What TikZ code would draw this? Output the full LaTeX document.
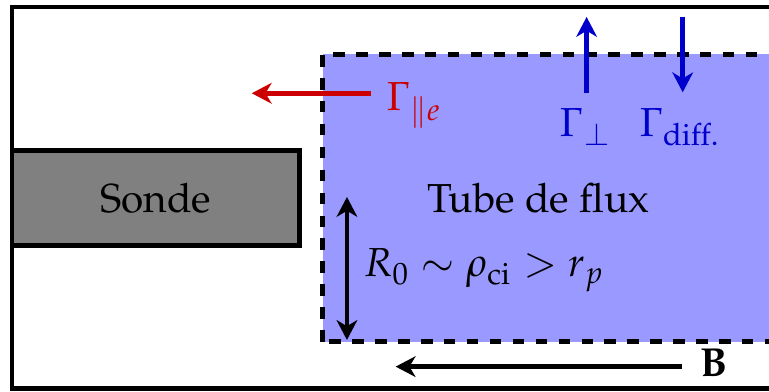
\documentclass[tikz,border=0pt]{standalone}
\usepackage[T1]{fontenc}
\usepackage{amsmath,amssymb}
\usepackage{mathpazo}
\usepackage{tikz}
\usetikzlibrary{arrows.meta,positioning}
\tikzset{frame/.style={draw,very thick},
  probe/.style={draw,very thick,fill=gray,minimum width=2.645cm,minimum height=0.874cm,inner sep=0pt},
  tube/.style={draw,very thick,dashed,fill=blue!40},
  lbl/.style={inner sep=0pt},
  arr/.style={-{Stealth[length=5.2pt,width=5.4pt,inset=1.6pt]},very thick},
  dblarr/.style={{Stealth[length=5.2pt,width=5.4pt,inset=1.6pt]}-{Stealth[length=5.2pt,width=5.4pt,inset=1.6pt]},very thick}}

\begin{document}
\begin{tikzpicture}[every node/.style={font=\fontsize{10.6}{12.7}\selectfont}]
\path[use as bounding box,clip] (0,0) rectangle (7.075,3.606);
% chamber and flux tube
\draw[frame] (0.110,0.030) rectangle (8,3.542);
\draw[tube] (2.969,0.463) rectangle (8,3.107);
\node[probe] (sonde) at (1.433,1.785) {Sonde};
\node[lbl,anchor=base] (tubelbl) at (4.954,1.647) {Tube de flux};
% parallel electron flux
\node[lbl,anchor=base west,text=red!80!black] (gpar) at (3.551,2.594) {$\Gamma_{\parallel e}$};
\coordinate (gparA) at (3.410,2.748);
\coordinate (gparB) at (2.316,2.748);
\draw[arr,red!80!black] (gparA) -- (gparB);
% transverse fluxes
\node[lbl,anchor=base,text=blue!80!black] (gperp) at (5.391,2.346) {$\Gamma_{\perp}$};
\node[lbl,anchor=base,text=blue!80!black] (gdiff) at (6.256,2.346) {$\Gamma_{\mathrm{diff.}}$};
\coordinate (perpA) at (5.397,2.748);
\coordinate (perpB) at (5.397,3.450);
\coordinate (diffA) at (6.281,3.453);
\coordinate (diffB) at (6.281,2.757);
\draw[arr,blue!80!black] (perpA) -- (perpB);
\draw[arr,blue!80!black] (diffA) -- (diffB);
% tube radius
\coordinate (rtop) at (3.192,1.794);
\coordinate (rbot) at (3.192,0.478);
\draw[dblarr] (rtop) -- (rbot);
\node[lbl,anchor=base west] (rlbl) at (3.340,1.058) {$R_0\sim\rho_{\mathrm{ci}}>r_p$};
% magnetic field
\node[lbl,anchor=base west] (blbl) at (6.431,0.141) {$\mathbf{B}$};
\coordinate (bA) at (6.271,0.233);
\coordinate (bB) at (3.640,0.233);
\draw[arr] (bA) -- (bB);
\end{tikzpicture}
\end{document}
